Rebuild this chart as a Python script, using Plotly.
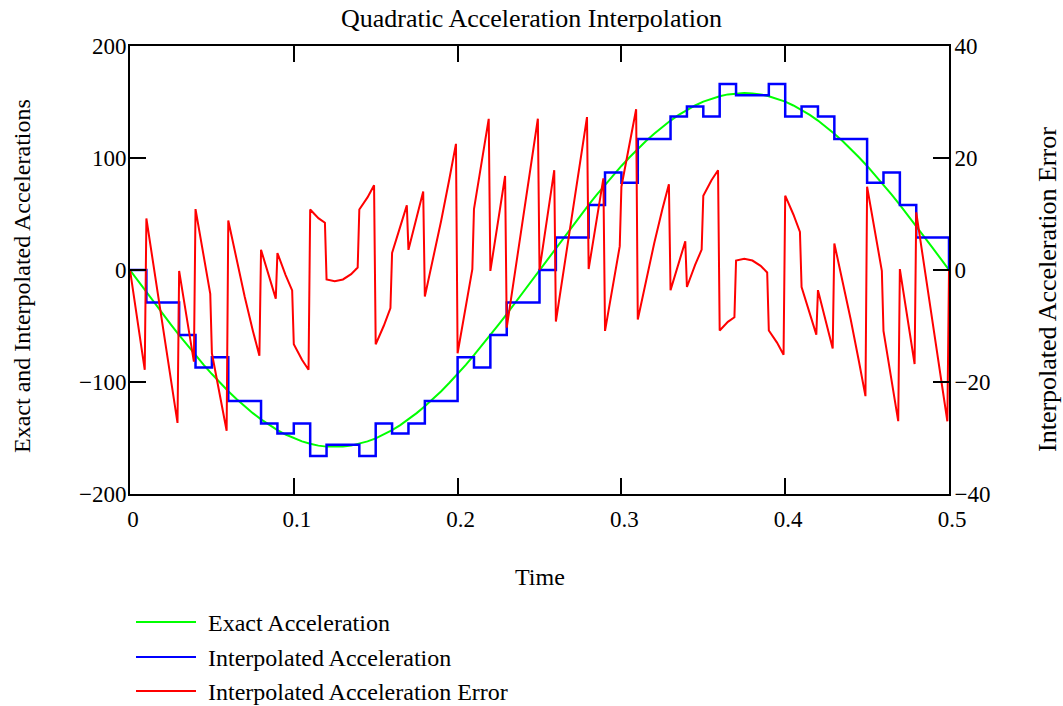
import plotly.graph_objects as go

# ---------------- data ----------------
# Exact acceleration, sampled every 0.005 s
t_exact = [round(0.005 * i, 3) for i in range(101)]
exact_acc = [
    0, -9.9, -19.8, -29.6, -39.3, -48.8, -58.2, -67.3, -76.1, -84.7,
    -92.9, -100.7, -108.2, -115.2, -121.7, -127.8, -133.4, -138.5, -143.0, -146.9,
    -150.3, -153.0, -155.2, -156.8, -157.7, -158.0,
    -157.7, -156.8, -155.2, -153.0, -150.3, -146.9, -143.0, -138.5, -133.4, -127.8,
    -121.7, -115.2, -108.2, -100.7, -92.9, -84.7, -76.1, -67.3, -58.2, -48.8,
    -39.3, -29.6, -19.8, -9.9, 0,
    9.9, 19.8, 29.6, 39.3, 48.8, 58.2, 67.3, 76.1, 84.7, 92.9,
    100.7, 108.2, 115.2, 121.7, 127.8, 133.4, 138.5, 143.0, 146.9, 150.3,
    153.0, 155.2, 156.8, 157.7, 158.0,
    157.7, 156.8, 155.2, 153.0, 150.3, 146.9, 143.0, 138.5, 133.4, 127.8,
    121.7, 115.2, 108.2, 100.7, 92.9, 84.7, 76.1, 67.3, 58.2, 48.8,
    39.3, 29.6, 19.8, 9.9, 0,
]

# Interpolated (held) acceleration, one level per 0.01 s step
t_interp = [round(0.01 * i, 2) for i in range(51)]
interp_acc = [
    0, -29, -29, -58, -87, -78, -117, -117, -137, -146,
    -137, -166, -156, -156, -166, -137, -146, -137, -117, -117,
    -78, -87, -58, -29, -29,
    0, 29, 29, 58, 87, 78, 117, 117, 137, 146,
    137, 166, 156, 156, 166, 137, 146, 137, 117, 117,
    78, 87, 58, 29, 29, 0,
]

# Interpolation error: start, middle and end of every 0.01 s step
t_error = [round(0.01 * i + d, 3) for i in range(50) for d in (0.0, 0.005, 0.009)] + [0.5]
error_vals = [
    0, -9.92, -17.83,
    9.20, -0.61, -8.37,
    -10.29, -19.83, -27.31,
    -0.16, -9.27, -16.37,
    10.88, 2.34, -4.26,
    -14.87, -22.71, -28.70,
    8.84, 1.82, -3.47,
    -4.74, -10.83, -15.33,
    3.60, -1.46, -5.11,
    3.04, -0.91, -3.64,
    -13.27, -16.04, -17.82,
    10.80, 9.25, 8.45,
    -1.69, -2.00, -1.80,
    -1.69, -0.75, 0.44,
    10.80, 12.96, 15.13,
    -13.27, -9.91, -6.80,
    3.04, 7.54, 11.54,
    3.60, 9.17, 14.01,
    -4.74, 1.82, 7.40,
    8.84, 16.29, 22.53,
    -14.87, -6.66, 0.15,
    10.88, 19.73, 26.99,
    -0.16, 9.17, 16.79,
    -10.29, -0.61, 7.23,
    9.20, 19.08, 27.01,
    0, 9.92, 17.83,
    -9.20, 0.61, 8.37,
    10.29, 19.83, 27.31,
    0.16, 9.27, 16.37,
    -10.88, -2.34, 4.26,
    14.87, 22.71, 28.70,
    -8.84, -1.82, 3.47,
    4.74, 10.83, 15.33,
    -3.60, 1.46, 5.11,
    -3.04, 0.91, 3.64,
    13.27, 16.04, 17.82,
    -10.80, -9.25, -8.45,
    1.69, 2.00, 1.80,
    1.69, 0.75, -0.44,
    -10.80, -12.96, -15.13,
    13.27, 9.91, 6.80,
    -3.04, -7.54, -11.54,
    -3.60, -9.17, -14.01,
    4.74, -1.82, -7.40,
    -8.84, -16.29, -22.53,
    14.87, 6.66, -0.15,
    -10.88, -19.73, -26.99,
    0.16, -9.17, -16.79,
    10.29, 0.61, -7.23,
    -9.20, -19.08, -27.01,
    0,
]

series_names = ["Exact Acceleration", "Interpolated Acceleration", "Interpolated Acceleration Error"]
series_colors = ["#00ff00", "#0000ff", "#ff0000"]

x_ticks = [0, 0.1, 0.2, 0.3, 0.4, 0.5]
x_ticklabels = ["0", "0.1", "0.2", "0.3", "0.4", "0.5"]

# ---------------- figure ----------------
FONT = "Liberation Serif"
W, H = 1063, 706
L, R, T, B = 130, 949, 46, 494  # plot area in pixels

fig = go.Figure()
fig.add_trace(go.Scatter(x=t_exact, y=exact_acc, mode="lines", name=series_names[0],
                         line=dict(color=series_colors[0], width=2), showlegend=False))
fig.add_trace(go.Scatter(x=t_interp, y=interp_acc, mode="lines", name=series_names[1],
                         line=dict(color=series_colors[1], width=2.5, shape="hv"), showlegend=False))
fig.add_trace(go.Scatter(x=t_error, y=error_vals, mode="lines", name=series_names[2], yaxis="y2",
                         line=dict(color=series_colors[2], width=2), showlegend=False))

def px_x(px):
    return (px - L) / (R - L)

def px_y(py):
    return (B - py) / (B - T)

axis_common = dict(showline=True, linewidth=2, linecolor="black", ticks="inside", ticklen=16,
                   tickwidth=2, tickcolor="black", showgrid=False, zeroline=False,
                   tickfont=dict(family=FONT, size=23, color="black"))

fig.update_layout(
    width=W, height=H,
    margin=dict(l=L, r=W - R, t=T, b=H - B, pad=0),
    paper_bgcolor="white", plot_bgcolor="white",
    font=dict(family=FONT, color="black"),
    title=dict(text="Quadratic Acceleration Interpolation", x=0.5, xref="container", xanchor="center",
               y=1 - 18 / H, yref="container", yanchor="middle",
               font=dict(family=FONT, size=26, color="black")),
    xaxis=dict(range=[0, 0.5], tickvals=x_ticks, ticktext=x_ticklabels, mirror="ticks",
               ticklabelstandoff=3, ticklabelshift=3, **axis_common),
    yaxis=dict(range=[-200, 200], dtick=100, ticklabelstandoff=-3, **axis_common),
    yaxis2=dict(range=[-40, 40], dtick=20, overlaying="y", side="right",
                ticklabelstandoff=-1, **axis_common),
    showlegend=False,
)

annotations = [
    dict(text="Time", x=0.5, y=px_y(577), xref="paper", yref="paper", showarrow=False,
         xanchor="center", yanchor="middle", font=dict(family=FONT, size=24, color="black")),
    dict(text="Exact and Interpolated Accelerations", x=px_x(22), y=px_y(276), xref="paper", yref="paper",
         showarrow=False, textangle=-90, xanchor="center", yanchor="middle",
         font=dict(family=FONT, size=24, color="black")),
    dict(text="Interpolated Acceleration Error", x=px_x(1047), y=px_y(290), xref="paper", yref="paper",
         showarrow=False, textangle=-90, xanchor="center", yanchor="middle",
         font=dict(family=FONT, size=26, color="black")),
]

shapes = []
legend_rows = [622, 657, 691]
for name, color, ly in zip(series_names, series_colors, legend_rows):
    shapes.append(dict(type="line", xref="paper", yref="paper", x0=px_x(136), x1=px_x(196),
                       y0=px_y(ly), y1=px_y(ly), line=dict(color=color, width=2)))
    annotations.append(dict(text=name, x=px_x(206), y=px_y(ly + 1), xref="paper", yref="paper",
                            showarrow=False, xanchor="left", yanchor="middle",
                            font=dict(family=FONT, size=24, color="black")))

fig.update_layout(annotations=annotations, shapes=shapes)
fig.write_html("out.html")
